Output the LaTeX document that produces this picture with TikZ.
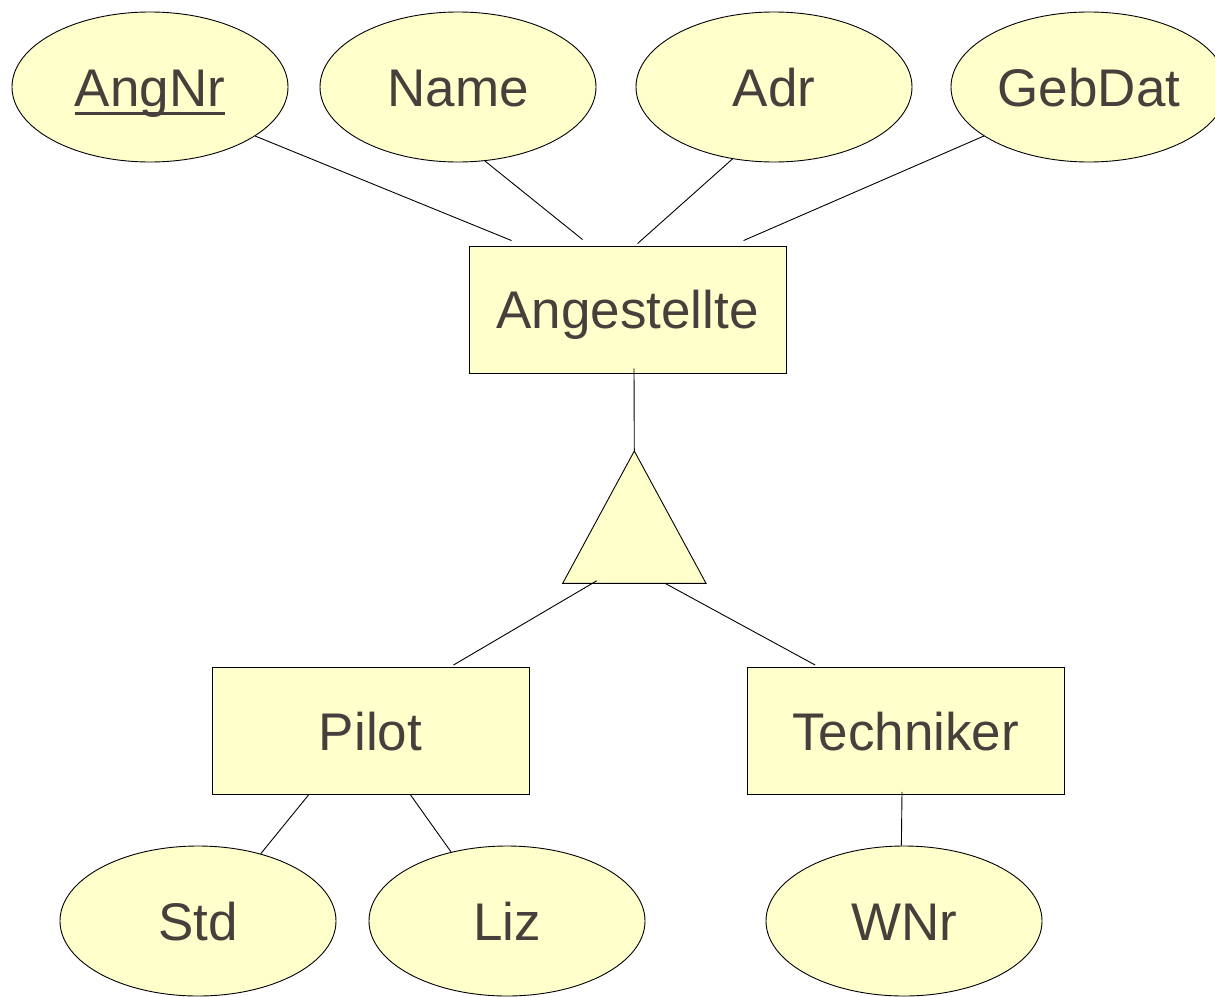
\documentclass[tikz,border=0pt]{standalone}
\usepackage{fontspec}
\setmainfont{Liberation Sans}
\usetikzlibrary{shapes.geometric,calc}

\definecolor{erfill}{HTML}{FFFFCC}
\definecolor{ertext}{RGB}{70,64,60}

\tikzset{
  erbase/.style={draw=black, line width=0.9pt, fill=erfill, inner sep=0pt,
    text=ertext, font=\fontsize{53}{60}\selectfont,
    text height=38pt, text depth=0pt},
  attr/.style={erbase, ellipse, minimum width=276pt, minimum height=150pt},
  entity/.style={erbase, rectangle, minimum width=317pt, minimum height=127pt},
  link/.style={draw=black, line width=0.9pt},
}

\begin{document}
\begin{tikzpicture}[x=1pt, y=-1pt]
  \useasboundingbox (0,0) rectangle (1215,996);
  \clip (0,0) rectangle (1215,996);

  % attributes of Angestellte
  \node[attr] (angnr)  at (150,87)  {};
  \node[text=ertext, font=\fontsize{53}{60}\selectfont, inner sep=0pt,
        text height=38pt, text depth=0pt] (angnrtxt) at (150,87) {AngNr};
  \draw[ertext, line width=3pt]
    ([yshift=-7.5pt]angnrtxt.base west) -- ([yshift=-7.5pt]angnrtxt.base east);
  \node[attr] (name)   at (458,87)  {Name};
  \node[attr] (adr)    at (774,87)  {Adr};
  \node[attr] (gebdat) at (1089,87) {GebDat};

  % entities
  \node[entity] (ang)  at (627.5,309.5) {Angestellte};
  \node[entity] (pilot) at (370.5,731)  {Pilot};
  \node[entity] (tech)  at (905.5,731)  {Techniker};

  % specialisation triangle
  \coordinate (tritop)   at (634.3,451);
  \coordinate (trileft)  at (562.7,583.3);
  \coordinate (triright) at (706,583.3);
  \draw[line width=0.9pt, fill=erfill] (tritop) -- (triright) -- (trileft) -- cycle;

  % attributes of the subclasses
  \node[attr] (std) at (198,921) {Std};
  \node[attr] (liz) at (507,921) {Liz};
  \node[attr] (wnr) at (904,921) {WNr};

  % connectors
  \draw[link] (angnr.-25)   -- ($(ang.north west)+(43,-5)$);
  \draw[link] (name.-70)    -- ($(ang.north west)+(114,-6)$);
  \draw[link] (adr.-120.5)  -- ($(ang.north west)+(169,-2)$);
  \draw[link] (gebdat.-155) -- ($(ang.north west)+(275,-5)$);

  \draw[link] ($(ang.south)+(6.5,-5)$) -- (tritop);
  \draw[link] ($(trileft)+(34,-2.5)$)  -- ($(pilot.north east)+(-76,-2)$);
  \draw[link] ($(triright)+(-41,0)$)   -- ($(tech.north west)+(68.7,-2)$);

  \draw[link] ($(pilot.south west)+(97,0)$)  -- (std.47);
  \draw[link] ($(pilot.south west)+(199,0)$) -- (liz.129);
  \draw[link] ($(tech.south)+(-3.5,-3)$)     -- (wnr.92);
\end{tikzpicture}
\end{document}
